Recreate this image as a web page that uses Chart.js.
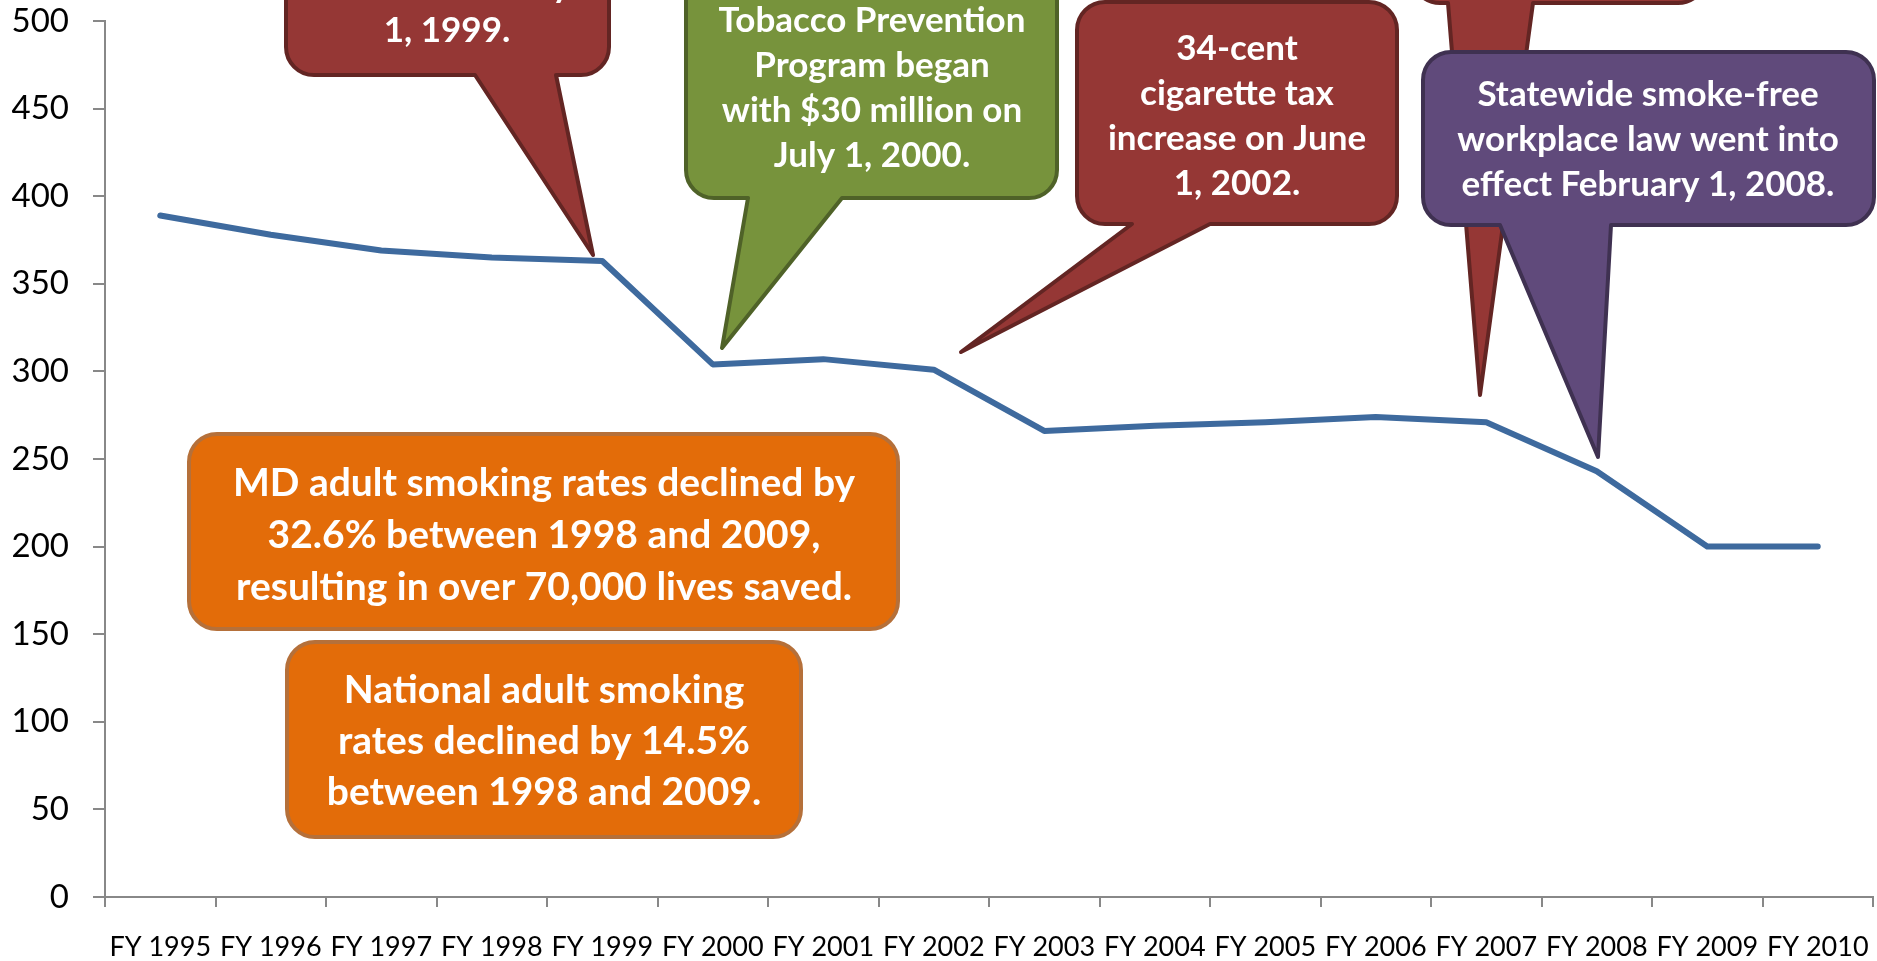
<!DOCTYPE html>
<html>
<head>
<meta charset="utf-8">
<script src="https://cdn.jsdelivr.net/npm/chart.js@4.4.1/dist/chart.umd.min.js"></script>
<style>
    html, body { margin: 0; padding: 0; background: #fff; }
    #wrap { width: 1877px; height: 961px; position: relative; }
</style>
</head>
<body>
<div id="wrap"><canvas id="chart"></canvas></div>
<script>
// Data
const years = ['FY 1995', 'FY 1996', 'FY 1997', 'FY 1998', 'FY 1999', 'FY 2000', 'FY 2001', 'FY 2002',
    'FY 2003', 'FY 2004', 'FY 2005', 'FY 2006', 'FY 2007', 'FY 2008', 'FY 2009', 'FY 2010'];
const values = [389, 378, 369, 365, 363, 304, 307, 301, 266, 269, 271, 274, 271, 243, 200, 200];
const yMin = 0;
const yMax = 500;
const yStep = 50;

const axisColor = '#888888';

// Speech bubbles (layout in canvas pixels)
const callouts = [
    { x1: 286, x2: 609, y1: -80, y2: 75, fill: '#953735', stroke: '#632523',
      tail: [475, 556, 593, 255], cx: 447, lines: ['increase on July', '1, 1999.'], base: -3, gap: 45, size: 35 },
    { x1: 686, x2: 1057, y1: -80, y2: 198, fill: '#77933C', stroke: '#4F6228',
      tail: [748, 842, 722, 348], cx: 872,
      lines: ['Tobacco Prevention', 'Program began', 'with $30 million on', 'July 1, 2000.'], base: 32, gap: 45, size: 35 },
    { x1: 1077, x2: 1397, y1: 2, y2: 224, fill: '#953735', stroke: '#632523',
      tail: [1132, 1210, 961, 352], cx: 1237,
      lines: ['34-cent', 'cigarette tax', 'increase on June', '1, 2002.'], base: 60, gap: 45, size: 35 },
    { x1: 1412, x2: 1706, y1: -200, y2: 3, fill: '#953735', stroke: '#632523',
      tail: [1448, 1533, 1480, 395], cx: 1559, lines: [], base: 0, gap: 45, size: 35 },
    { x1: 1423, x2: 1874, y1: 52, y2: 225, fill: '#604A7B', stroke: '#3F3151',
      tail: [1500, 1611, 1598, 457], cx: 1648,
      lines: ['Statewide smoke-free', 'workplace law went into', 'effect February 1, 2008.'], base: 106, gap: 45, size: 35 },
    { x1: 189, x2: 898, y1: 434, y2: 629, fill: '#E36C09', stroke: '#B5703A', tail: null, cx: 544,
      lines: ['MD adult smoking rates declined by', '32.6% between 1998 and 2009,', 'resulting in over 70,000 lives saved.'],
      base: 496, gap: 52, size: 39 },
    { x1: 287, x2: 801, y1: 642, y2: 837, fill: '#E36C09', stroke: '#B5703A', tail: null, cx: 544,
      lines: ['National adult smoking', 'rates declined by 14.5%', 'between 1998 and 2009.'],
      base: 703, gap: 51, size: 39 }
];

function bubblePath(ctx, b) {
    const r = 28;
    ctx.beginPath();
    ctx.moveTo(b.x1 + r, b.y1);
    ctx.lineTo(b.x2 - r, b.y1);
    ctx.arcTo(b.x2, b.y1, b.x2, b.y1 + r, r);
    ctx.lineTo(b.x2, b.y2 - r);
    ctx.arcTo(b.x2, b.y2, b.x2 - r, b.y2, r);
    if (b.tail) {
        ctx.lineTo(b.tail[1], b.y2);
        ctx.lineTo(b.tail[2], b.tail[3]);
        ctx.lineTo(b.tail[0], b.y2);
    }
    ctx.lineTo(b.x1 + r, b.y2);
    ctx.arcTo(b.x1, b.y2, b.x1, b.y2 - r, r);
    ctx.lineTo(b.x1, b.y1 + r);
    ctx.arcTo(b.x1, b.y1, b.x1 + r, b.y1, r);
    ctx.closePath();
}

const calloutPlugin = {
    id: 'callouts',
    afterDatasetsDraw(chart) {
        const ctx = chart.ctx;
        ctx.save();
        callouts.forEach(b => {
            bubblePath(ctx, b);
            ctx.fillStyle = b.fill;
            ctx.fill();
            ctx.lineJoin = 'round';
            ctx.lineWidth = 4;
            ctx.strokeStyle = b.stroke;
            ctx.stroke();

            ctx.fillStyle = '#fff';
            ctx.textAlign = 'center';
            ctx.textBaseline = 'alphabetic';
            ctx.font = 'bold ' + b.size + 'px Lato, "Open Sans", sans-serif';
            b.lines.forEach((t, i) => {
                ctx.fillText(t, b.cx, b.base + i * b.gap, b.x2 - b.x1 - 24);
            });
        });
        ctx.restore();
    }
};

new Chart(document.getElementById('chart'), {
    type: 'line',
    data: {
        labels: years,
        datasets: [{
            data: values,
            borderColor: '#3E6A9E',
            borderWidth: 6,
            pointRadius: 0,
            borderCapStyle: 'round',
            borderJoinStyle: 'round',
            tension: 0
        }]
    },
    options: {
        responsive: true,
        maintainAspectRatio: false,
        animation: false,
        layout: { padding: { top: 21, right: 4, left: 0, bottom: 0 } },
        plugins: {
            legend: { display: false },
            tooltip: { enabled: false }
        },
        scales: {
            x: {
                offset: true,
                grid: { offset: true, drawOnChartArea: false, tickLength: 10, color: axisColor, lineWidth: 2 },
                border: { color: axisColor, width: 2 },
                ticks: {
                    font: { family: 'Lato, sans-serif', size: 27 },
                    color: '#000', padding: 24, maxRotation: 0, autoSkip: false
                },
                afterFit(s) {
                    s.height = 64;
                    s.paddingLeft = 0;
                    s.paddingRight = 0;
                }
            },
            y: {
                min: yMin,
                max: yMax,
                grid: { drawOnChartArea: false, tickLength: 12, color: axisColor, lineWidth: 2 },
                border: { color: axisColor, width: 2 },
                ticks: {
                    stepSize: yStep, color: '#000', padding: 24,
                    font: { family: 'Lato, sans-serif', size: 33 }
                },
                afterFit(s) {
                    s.width = 105;
                    s.paddingTop = 0;
                    s.paddingBottom = 0;
                }
            }
        }
    },
    plugins: [calloutPlugin]
});
</script>
</body>
</html>
